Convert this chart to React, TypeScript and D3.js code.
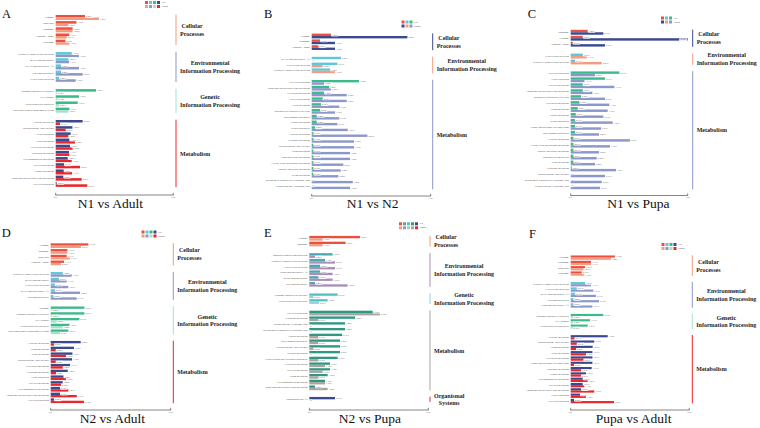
import React from "react";
import * as d3 from "d3";

// ---------- colours ----------
const RED = "#E9503E";
const SALMON = "#F29C82";
const CYAN = "#5EC8DA";
const LAVENDER = "#8C97CA";
const GREEN = "#3DBA8C";
const MINT = "#A6E2CB";
const NAVY = "#3B4A8F";
const RED2 = "#E8262B";
const TEAL = "#4BA8B0";
const MAUVE = "#A98FB6";
const TURQ = "#4FC4BE";
const LIGHTBLUE = "#98CDE0";
const DKTEAL = "#2F9784";
const GRAY = "#A8A59E";

// ---------- shared ----------
const tickLabels = ["0%", "10%"];
const valueMax = 10;

// ---------- A: N1 vs Adult ----------
const A_CP = ["Lysosome", "Endocytosis", "Phagosome", "Autophagy - animal", "Peroxisome"];
const A_CP_up = [2.49, 1.76, 1.44, 1.16, 0.82];
const A_CP_down = [3.68, 1.08, 1.44, 0.93, 1.16];
const A_EIP = ["Neuroactive ligand-receptor interaction", "mTOR signaling pathway", "MAPK signaling pathway - fly", "Wnt signaling pathway", "ECM-receptor interaction"];
const A_EIP_up = [1.36, 1.08, 0.45, 0.45, 0.28];
const A_EIP_down = [1.98, 1.13, 1.98, 2.29, 1.7];
const A_GIP = ["Ribosome biogenesis in eukaryotes", "RNA transport", "Ubiquitin mediated proteolysis", "Protein processing in endoplasmic reticulum"];
const A_GIP_up = [3.43, 1.98, 1.87, 1.16];
const A_GIP_down = [0.1, 0.14, 0.28, 1.08];
const A_MET = ["Galactose metabolism", "Drug metabolism - other enzymes", "Lysine degradation", "Purine metabolism", "Glycerolipid metabolism", "Glutathione metabolism", "Glycerophospholipid metabolism", "Fatty acid metabolism", "Tyrosine metabolism", "Amino sugar and nucleotide sugar metabolism", "Fatty acid degradation"];
const A_MET_up = [2.29, 1.42, 1.27, 1.16, 1.22, 1.13, 1.02, 0.71, 0.68, 0.65, 0.08];
const A_MET_down = [0.37, 0.85, 1.08, 1.64, 1.44, 1.16, 1.36, 2.07, 1.39, 2.21, 2.69];

// ---------- B: N1 vs N2 ----------
const B_CP = ["Lysosome", "Phagosome", "Autophagy - animal"];
const B_CP_up = [1.62, 0.7, 0.56];
const B_CP_down = [8.04, 1.96, 1.96];
const B_EIP = ["MAPK signaling pathway - fly", "ECM-receptor interaction", "Neuroactive ligand-receptor interaction"];
const B_EIP_up = [2.46, 2.16, 1.54];
const B_EIP_down = [0, 0.92, 1.96];
const B_MET = ["Fatty acid degradation", "Amino sugar and nucleotide sugar metabolism", "Glycerolipid metabolism", "Fatty acid metabolism", "Purine metabolism", "Biosynthesis of unsaturated fatty acids", "Insect hormone biosynthesis", "Tyrosine metabolism", "Steroid biosynthesis", "Galactose metabolism", "Glutathione metabolism", "Drug metabolism - other enzymes", "Carbon metabolism", "Starch and sucrose metabolism", "Glycine, serine and threonine metabolism", "Ascorbate and aldarate metabolism", "Retinol metabolism", "Metabolism of xenobiotics by cytochrome P450", "Drug metabolism - cytochrome P450"];
const B_MET_up = [3.98, 1.46, 1.04, 0.92, 0.78, 0.7, 0.42, 0.42, 0.28, 0.14, 0.14, 0.14, 0.14, 0.14, 0.14, 0.14, 0.14, 0, 0];
const B_MET_down = [1.04, 1.62, 2.94, 2.94, 2.32, 1.96, 2.32, 2.16, 3.03, 4.68, 3.56, 3.56, 3.22, 3.22, 2.66, 2.44, 2.24, 3.45, 3.22];

// ---------- C: N1 vs Pupa ----------
const C_CP = ["Phagosome", "Lysosome", "Autophagy - animal"];
const C_CP_up = [1.45, 1.03, 0.17];
const C_CP_down = [2.79, 10.0, 2.93];
const C_EIP = ["ECM-receptor interaction", "Neuroactive ligand-receptor interaction"];
const C_EIP_up = [1.03, 0.37];
const C_EIP_down = [1.37, 2.65];
const C_MET = ["Fatty acid degradation", "Lysine degradation", "Fatty acid metabolism", "Amino sugar and nucleotide sugar metabolism", "Biosynthesis of unsaturated fatty acids", "Glycerolipid metabolism", "Carbon metabolism", "Tyrosine metabolism", "Steroid biosynthesis", "Pentose and glucuronate interconversions", "Insect hormone biosynthesis", "Galactose metabolism", "Glycine, serine and threonine metabolism", "Ascorbate and aldarate metabolism", "Biosynthesis of amino acids", "Purine metabolism", "Glutathione metabolism", "Drug metabolism - other enzymes", "Metabolism of xenobiotics by cytochrome P450", "Drug metabolism - cytochrome P450"];
const C_MET_up = [4.16, 2.93, 1.03, 1.03, 0.88, 0.74, 0.6, 0.43, 0.37, 0.37, 0.37, 0.23, 0.23, 0.23, 0.23, 0.23, 0.09, 0, 0, 0];
const C_MET_down = [2.08, 1.17, 3.73, 1.85, 2.93, 3.3, 3.16, 2.79, 3.59, 2.59, 2.42, 5.07, 3.36, 2.42, 2.22, 2.08, 3.87, 2.93, 2.65, 2.51];

// ---------- D: N2 vs Adult ----------
const D_CP = ["Lysosome", "Phagosome", "Endocytosis", "Autophagy - animal"];
const D_CP_up = [3.14, 1.39, 1.33, 1.11];
const D_CP_down = [2.53, 1.39, 1.61, 0.86];
const D_EIP = ["Neuroactive ligand-receptor interaction", "mTOR signaling pathway", "ECM-receptor interaction", "MAPK signaling pathway - fly", "Wnt signaling pathway"];
const D_EIP_up = [1.0, 0.69, 0.36, 0.36, 0.22];
const D_EIP_down = [1.75, 1.33, 1.47, 2.44, 2.17];
const D_GIP = ["Ribosome", "Ribosome biogenesis in eukaryotes", "RNA transport", "Ubiquitin mediated proteolysis", "Protein processing in endoplasmic reticulum"];
const D_GIP_up = [2.81, 2.81, 2.39, 1.56, 1.47];
const D_GIP_down = [0.08, 0.08, 0.5, 1.0, 0.78];
const D_MET = ["Galactose metabolism", "Carbon metabolism", "Purine metabolism", "Drug metabolism - other enzymes", "Glycerolipid metabolism", "Glutathione metabolism", "Lysine degradation", "Fatty acid metabolism", "Glycerophospholipid metabolism", "Amino sugar and nucleotide sugar metabolism", "Fatty acid degradation"];
const D_MET_up = [2.5, 1.94, 1.81, 1.78, 1.61, 1.42, 1.06, 1.0, 0.78, 0.78, 0.28];
const D_MET_down = [0.28, 0.42, 1.28, 0.42, 1.0, 0.44, 1.28, 0.86, 1.47, 2.17, 2.78];

// ---------- E: N2 vs Pupa ----------
const E_CP = ["Lysosome", "Phagosome"];
const E_CP_up = [4.26, 3.05];
const E_CP_down = [1.12, 1.12];
const E_EIP = ["Phosphatidylinositol signaling system", "Neuroactive ligand-receptor interaction", "ECM-receptor interaction", "Hippo signaling pathway - fly", "mTOR signaling pathway", "Wnt signaling pathway"];
const E_EIP_up = [1.96, 1.32, 0.9, 0.9, 0.76, 0.48];
const E_EIP_down = [0.48, 2.16, 2.16, 1.96, 1.96, 3.22];
const E_GIP = ["Ribosome biogenesis in eukaryotes", "Ubiquitin mediated proteolysis"];
const E_GIP_up = [2.38, 1.54];
const E_GIP_down = [0.34, 0.81];
const E_MET = ["Fatty acid degradation", "Glutathione metabolism", "Drug metabolism - cytochrome P450", "Metabolism of xenobiotics by cytochrome P450", "Tyrosine metabolism", "Insect hormone biosynthesis", "Drug metabolism - other enzymes", "Galactose metabolism", "Sesquiterpenoid and triterpenoid biosynthesis", "Glycerolipid metabolism", "Fatty acid metabolism", "Carbon metabolism", "Glycerophospholipid metabolism", "Amino sugar and nucleotide sugar metabolism"];
const E_MET_up = [5.32, 3.84, 3.0, 3.0, 2.77, 2.58, 2.58, 2.58, 2.38, 1.74, 1.74, 1.54, 1.32, 0.48];
const E_MET_down = [5.94, 0.76, 0, 0, 0.76, 0.76, 0.34, 0, 0.76, 1.32, 1.12, 0.76, 1.32, 1.54];
const E_OS = ["Phototransduction - fly"];
const E_OS_up = [2.16];
const E_OS_down = [0];

// ---------- F: Pupa vs Adult ----------
const F_CP = ["Lysosome", "Phagosome", "Endocytosis", "Peroxisome"];
const F_CP_up = [3.74, 1.71, 1.21, 0.93];
const F_CP_down = [3.4, 1.71, 1.07, 1.15];
const F_EIP = ["Neuroactive ligand-receptor interaction", "ECM-receptor interaction", "MAPK signaling pathway - fly", "Wnt signaling pathway", "Hippo signaling pathway - fly"];
const F_EIP_up = [1.21, 0.51, 0.37, 0.22, 0.22];
const F_EIP_down = [1.71, 1.91, 2.13, 2.39, 1.83];
const F_GIP = ["Ribosome biogenesis in eukaryotes", "RNA transport", "Ubiquitin mediated proteolysis"];
const F_GIP_up = [2.75, 1.63, 1.43];
const F_GIP_down = [0.2, 0.2, 0.15];
const F_MET = ["Galactose metabolism", "Drug metabolism - other enzymes", "Carbon metabolism", "Purine metabolism", "Glycerolipid metabolism", "Pentose and glucuronate interconversions", "Glutathione metabolism", "Tyrosine metabolism", "Glycerophospholipid metabolism", "Fatty acid metabolism", "Amino sugar and nucleotide sugar metabolism", "Lysine degradation", "Fatty acid degradation"];
const F_MET_up = [3.12, 1.99, 1.85, 1.83, 1.83, 1.83, 1.77, 1.29, 1.01, 1.01, 0.87, 0.79, 0.28];
const F_MET_down = [0.31, 0.51, 0.45, 1.29, 1.07, 0.28, 0.87, 0.87, 1.43, 1.15, 1.99, 1.29, 3.65];

const CP_LABEL = ["Cellular", "Processes"];
const EIP_LABEL = ["Environmental", "Information Processing"];
const GIP_LABEL = ["Genetic", "Information Processing"];
const MET_LABEL = ["Metabolism"];
const OS_LABEL = ["Organismal", "Systems"];

type Group = { key: string; label: string[]; cats: string[]; up: number[]; down: number[]; upColor: string; downColor: string };
type PanelCfg = {
  id: string; title: string;
  x0: number; x1: number; y0: number; y1: number; axisY: number; bracketX: number;
  lx: number; ly: number; tx: number; ty: number; legX: number; legY: number;
  groups: Group[];
};

const SERIF = "'Liberation Serif', 'Times New Roman', serif";

let _ctx: CanvasRenderingContext2D | null = null;
function measure(s: string, font: string): number {
  if (!_ctx) {
    const c = document.createElement("canvas");
    _ctx = c.getContext("2d");
  }
  if (!_ctx) return s.length * 3;
  _ctx.font = font;
  return _ctx.measureText(s).width;
}

const panels: PanelCfg[] = [
  {
    id: "A", title: "N1 vs Adult", x0: 55.7, x1: 173.3, y0: 14.4, y1: 187.4, axisY: 195, bracketX: 176,
    lx: 2, ly: 17.5, tx: 110.3, ty: 208.3, legX: 145, legY: 1,
    groups: [
      { key: "cp", label: CP_LABEL, cats: A_CP, up: A_CP_up, down: A_CP_down, upColor: RED, downColor: SALMON },
      { key: "eip", label: EIP_LABEL, cats: A_EIP, up: A_EIP_up, down: A_EIP_down, upColor: CYAN, downColor: LAVENDER },
      { key: "gip", label: GIP_LABEL, cats: A_GIP, up: A_GIP_up, down: A_GIP_down, upColor: GREEN, downColor: MINT },
      { key: "met", label: MET_LABEL, cats: A_MET, up: A_MET_up, down: A_MET_down, upColor: NAVY, downColor: RED2 },
    ],
  },
  {
    id: "B", title: "N1 vs N2", x0: 311.7, x1: 430.7, y0: 33.1, y1: 189.6, axisY: 196, bracketX: 432.7,
    lx: 264, ly: 18.3, tx: 372.7, ty: 208, legX: 401.5, legY: 20.5,
    groups: [
      { key: "cp", label: CP_LABEL, cats: B_CP, up: B_CP_up, down: B_CP_down, upColor: RED, downColor: NAVY },
      { key: "eip", label: EIP_LABEL, cats: B_EIP, up: B_EIP_up, down: B_EIP_down, upColor: CYAN, downColor: SALMON },
      { key: "met", label: MET_LABEL, cats: B_MET, up: B_MET_up, down: B_MET_down, upColor: GREEN, downColor: LAVENDER },
    ],
  },
  {
    id: "C", title: "N1 vs Pupa", x0: 570.7, x1: 687.7, y0: 29.3, y1: 189.7, axisY: 195.5, bracketX: 692.7,
    lx: 527.7, ly: 18.3, tx: 638.3, ty: 208, legX: 661, legY: 16.5,
    groups: [
      { key: "cp", label: CP_LABEL, cats: C_CP, up: C_CP_up, down: C_CP_down, upColor: RED, downColor: NAVY },
      { key: "eip", label: EIP_LABEL, cats: C_EIP, up: C_EIP_up, down: C_EIP_down, upColor: CYAN, downColor: SALMON },
      { key: "met", label: MET_LABEL, cats: C_MET, up: C_MET_up, down: C_MET_down, upColor: GREEN, downColor: LAVENDER },
    ],
  },
  {
    id: "D", title: "N2 vs Adult", x0: 50.7, x1: 170.7, y0: 242.8, y1: 403.6, axisY: 410, bracketX: 173.3,
    lx: 1.7, ly: 237.3, tx: 112.3, ty: 423.3, legX: 141.5, legY: 230.5,
    groups: [
      { key: "cp", label: CP_LABEL, cats: D_CP, up: D_CP_up, down: D_CP_down, upColor: RED, downColor: SALMON },
      { key: "eip", label: EIP_LABEL, cats: D_EIP, up: D_EIP_up, down: D_EIP_down, upColor: CYAN, downColor: LAVENDER },
      { key: "gip", label: GIP_LABEL, cats: D_GIP, up: D_GIP_up, down: D_GIP_down, upColor: GREEN, downColor: MINT },
      { key: "met", label: MET_LABEL, cats: D_MET, up: D_MET_up, down: D_MET_down, upColor: NAVY, downColor: RED2 },
    ],
  },
  {
    id: "E", title: "N2 vs Pupa", x0: 309.3, x1: 428.3, y0: 235.4, y1: 402.2, axisY: 410, bracketX: 430,
    lx: 264, ly: 237.3, tx: 370, ty: 423, legX: 399, legY: 222.3,
    groups: [
      { key: "cp", label: CP_LABEL, cats: E_CP, up: E_CP_up, down: E_CP_down, upColor: RED, downColor: SALMON },
      { key: "eip", label: EIP_LABEL, cats: E_EIP, up: E_EIP_up, down: E_EIP_down, upColor: TEAL, downColor: MAUVE },
      { key: "gip", label: GIP_LABEL, cats: E_GIP, up: E_GIP_up, down: E_GIP_down, upColor: TURQ, downColor: LIGHTBLUE },
      { key: "met", label: MET_LABEL, cats: E_MET, up: E_MET_up, down: E_MET_down, upColor: DKTEAL, downColor: GRAY },
      { key: "os", label: OS_LABEL, cats: E_OS, up: E_OS_up, down: E_OS_down, upColor: NAVY, downColor: RED2 },
    ],
  },
  {
    id: "F", title: "Pupa vs Adult", x0: 570.7, x1: 689.3, y0: 255.0, y1: 403.7, axisY: 410, bracketX: 692.3,
    lx: 529, ly: 238.3, tx: 633.7, ty: 422.7, legX: 661.5, legY: 243,
    groups: [
      { key: "cp", label: CP_LABEL, cats: F_CP, up: F_CP_up, down: F_CP_down, upColor: RED, downColor: SALMON },
      { key: "eip", label: EIP_LABEL, cats: F_EIP, up: F_EIP_up, down: F_EIP_down, upColor: CYAN, downColor: LAVENDER },
      { key: "gip", label: GIP_LABEL, cats: F_GIP, up: F_GIP_up, down: F_GIP_down, upColor: GREEN, downColor: MINT },
      { key: "met", label: MET_LABEL, cats: F_MET, up: F_MET_up, down: F_MET_down, upColor: NAVY, downColor: RED2 },
    ],
  },
];

const fmt = (v: number) => (v === 0 ? "0" : v.toFixed(2) + "%");

function Panel({ p }: { p: PanelCfg }) {
  const slots: string[] = [];
  p.groups.forEach((g, gi) => {
    if (gi > 0) slots.push("gap" + gi);
    g.cats.forEach((c) => slots.push(g.key + "|" + c));
  });
  const y = d3.scaleBand<string>().domain(slots).range([p.y0, p.y1]).padding(0);
  const x = d3.scaleLinear().domain([0, valueMax]).range([p.x0, p.x1]);
  const bw = y.bandwidth();
  const h = bw * 0.41;
  const labelFont = 2.3;
  const groupFont = 6;
  const groupFontStr = `bold ${groupFont}px 'Liberation Serif'`;

  const bars: React.ReactNode[] = [];
  const labels: React.ReactNode[] = [];
  const catLabels: React.ReactNode[] = [];
  const brackets: React.ReactNode[] = [];

  p.groups.forEach((g) => {
    g.cats.forEach((c, i) => {
      const key = g.key + "|" + c;
      const cy = (y(key) as number) + bw / 2;
      const pairs: [number, string, number][] = [
        [g.up[i], g.upColor, cy - h],
        [g.down[i], g.downColor, cy],
      ];
      pairs.forEach(([v, col, by], j) => {
        const xe = x(v);
        bars.push(<rect key={key + j} x={p.x0} y={by} width={Math.max(0, xe - p.x0)} height={h} fill={col} />);
        const t = fmt(v);
        const tw = t.length * labelFont * 0.52 + 0.8;
        let lx = xe + 0.6;
        if (lx + tw > p.x1 + 2) lx = xe - tw - 0.6;
        const ly = by + h / 2 + 0.4;
        labels.push(
          <g key={key + "l" + j}>
            <rect x={lx} y={ly - labelFont * 0.6} width={tw} height={labelFont * 1.15} fill="#fff" fillOpacity={0.9} />
            <text x={lx + 0.4} y={ly} dominantBaseline="middle" fontSize={labelFont} fill="#555" fontFamily={SERIF}>{t}</text>
          </g>
        );
      });
      catLabels.push(
        <text key={key + "c"} x={p.x0 - 1.8} y={cy} textAnchor="end" dominantBaseline="middle" fontSize={2.3} fill="#444" fontFamily={SERIF}>{c}</text>
      );
    });
    const top = y(g.key + "|" + g.cats[0]) as number;
    const bot = (y(g.key + "|" + g.cats[g.cats.length - 1]) as number) + bw;
    brackets.push(<line key={g.key + "b"} x1={p.bracketX} x2={p.bracketX} y1={top + 0.3} y2={bot - 0.3} stroke={g.downColor} strokeWidth={1} />);
    const mid = (top + bot) / 2;
    const maxW = d3.max(g.label, (s) => measure(s, groupFontStr)) || 40;
    const cx = p.bracketX + 4 + maxW / 2;
    const lh = 7.8;
    brackets.push(
      <text key={g.key + "t"} textAnchor="middle" fontSize={groupFont} fontWeight="bold" fill="#222" fontFamily={SERIF}>
        {g.label.map((s, k) => (
          <tspan key={k} x={cx} y={mid - ((g.label.length - 1) * lh) / 2 + 2.1 + k * lh}>{s}</tspan>
        ))}
      </text>
    );
  });

  const sq = 3;
  const step = 4;
  const legend = (
    <g>
      {p.groups.map((g, i) => (
        <g key={"lg" + i}>
          <rect x={p.legX + i * step} y={p.legY} width={sq} height={sq} fill={g.upColor} />
          <rect x={p.legX + i * step} y={p.legY + step} width={sq} height={sq} fill={g.downColor} />
        </g>
      ))}
      <text x={p.legX + p.groups.length * step + 0.8} y={p.legY + sq / 2} dominantBaseline="middle" fontSize={2.6} fill="#444" fontFamily={SERIF}>Up</text>
      <text x={p.legX + p.groups.length * step + 0.8} y={p.legY + step + sq / 2} dominantBaseline="middle" fontSize={2.6} fill="#444" fontFamily={SERIF}>Down</text>
    </g>
  );

  const ticks = x.ticks(1);
  return (
    <g>
      <text x={p.lx} y={p.ly} fontSize={12.5} fill="#111" fontFamily={SERIF}>{p.id}</text>
      {legend}
      {catLabels}
      {bars}
      {labels}
      {brackets}
      <line x1={p.x0} x2={p.x1} y1={p.axisY} y2={p.axisY} stroke="#333" strokeWidth={0.6} />
      {ticks.map((t, i) => (
        <g key={"tk" + i}>
          <line x1={x(t)} x2={x(t)} y1={p.axisY - 2.2} y2={p.axisY + 0.3} stroke="#333" strokeWidth={0.6} />
          <text x={x(t)} y={p.axisY + 2.8} textAnchor="middle" fontSize={2.4} fill="#555" fontFamily={SERIF}>{tickLabels[i] ?? t + "%"}</text>
        </g>
      ))}
      <text x={p.tx} y={p.ty} textAnchor="middle" fontSize={13.5} fill="#111" fontFamily={SERIF}>{p.title}</text>
    </g>
  );
}

export default function App() {
  return (
    <svg width={760} height={428} viewBox="0 0 760 428" style={{ position: "absolute", left: 0, top: 0, background: "#fff" }}>
      <rect x={0} y={0} width={760} height={428} fill="#fff" />
      {panels.map((p) => (
        <Panel key={p.id} p={p} />
      ))}
    </svg>
  );
}
